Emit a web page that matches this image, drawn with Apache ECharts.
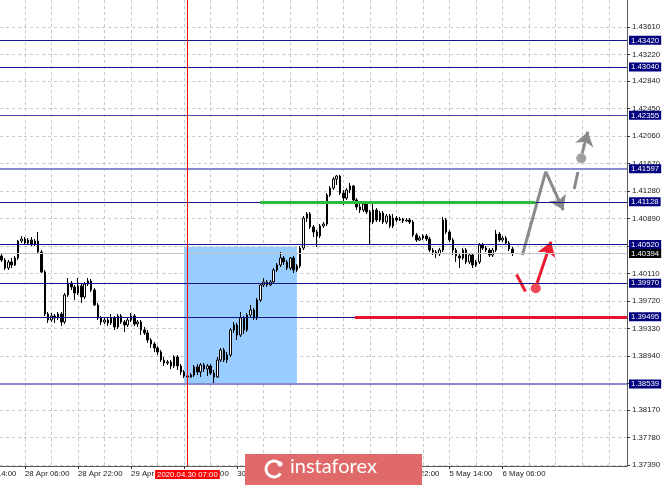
<!DOCTYPE html>
<html><head><meta charset="utf-8">
<script src="https://cdn.jsdelivr.net/npm/echarts@6/dist/echarts.min.js"></script>
<style>html,body{margin:0;padding:0;background:#fff}#c{width:665px;height:485px}</style>
</head><body><div id="c"></div>
<script>
// ---------- DATA ----------
const tradingDays = ['27 Apr','28 Apr','29 Apr','30 Apr','1 May','4 May','5 May','6 May','7 May'];
const axisStart = '27 Apr 14:00';
const axisEnd = '7 May 19:00';
const firstBarTime = '27 Apr 23:00';
const labelTimes = ['27 Apr 14:00','28 Apr 06:00','28 Apr 22:00','29 Apr 14:00','30 Apr 06:00','30 Apr 22:00','1 May 14:00','4 May 06:00','4 May 22:00','5 May 14:00','6 May 06:00'];
const markedTime = '30 Apr 07:00';
const markedLabel = '2020.04.30 07:00';

const opens = [1.40358,1.40301,1.40187,1.40273,1.40230,1.40329,1.40571,1.40599,1.40542,1.40585,
1.40528,1.40571,1.40415,1.40131,1.39535,1.39449,1.39506,1.39478,1.39535,1.39421,
1.39804,1.39974,1.39918,1.39832,1.39932,1.39776,1.39960,1.40003,1.39875,1.39662,
1.39478,1.39421,1.39449,1.39407,1.39478,1.39350,1.39506,1.39421,1.39378,1.39449,
1.39506,1.39393,1.39421,1.39307,1.39265,1.39165,1.39108,1.39052,1.38995,1.38881,
1.38838,1.38853,1.38796,1.38924,1.38796,1.38711,1.38654,1.38640,1.38668,1.38782,
1.38711,1.38810,1.38753,1.38796,1.38696,1.38640,1.38881,1.39023,1.38881,1.38952,
1.39307,1.39378,1.39236,1.39478,1.39307,1.39520,1.39591,1.39478,1.39733,1.39946,
1.39989,1.39946,1.39989,1.40159,1.40230,1.40329,1.40273,1.40187,1.40329,1.40159,
1.40216,1.40471,1.40897,1.40954,1.40770,1.40699,1.40642,1.40784,1.40812,1.41224,
1.41323,1.41451,1.41494,1.41252,1.41181,1.41295,1.41352,1.41153,1.41054,1.41011,
1.41096,1.40983,1.40841,1.41011,1.40869,1.40968,1.40841,1.40926,1.40784,1.40897,
1.40869,1.40883,1.40855,1.40869,1.40841,1.40656,1.40585,1.40613,1.40642,1.40599,
1.40443,1.40415,1.40386,1.40443,1.40869,1.40699,1.40585,1.40443,1.40358,1.40329,
1.40443,1.40273,1.40372,1.40230,1.40273,1.40514,1.40471,1.40443,1.40372,1.40443,
1.40670,1.40585,1.40613,1.40542,1.40457];
const closes = [1.40301,1.40187,1.40273,1.40230,1.40329,1.40571,1.40599,1.40542,1.40585,1.40528,
1.40571,1.40415,1.40131,1.39535,1.39449,1.39506,1.39478,1.39535,1.39421,1.39804,
1.39974,1.39918,1.39832,1.39932,1.39776,1.39960,1.40003,1.39875,1.39662,1.39478,
1.39421,1.39449,1.39407,1.39478,1.39350,1.39506,1.39421,1.39378,1.39449,1.39506,
1.39393,1.39421,1.39307,1.39265,1.39165,1.39108,1.39052,1.38995,1.38881,1.38838,
1.38853,1.38796,1.38924,1.38796,1.38711,1.38654,1.38640,1.38668,1.38782,1.38711,
1.38810,1.38753,1.38796,1.38696,1.38640,1.38881,1.39023,1.38881,1.38952,1.39307,
1.39378,1.39236,1.39478,1.39307,1.39520,1.39591,1.39478,1.39733,1.39946,1.39989,
1.39946,1.39989,1.40159,1.40230,1.40329,1.40273,1.40187,1.40329,1.40159,1.40216,
1.40471,1.40897,1.40954,1.40770,1.40699,1.40642,1.40784,1.40812,1.41224,1.41323,
1.41451,1.41494,1.41252,1.41181,1.41295,1.41352,1.41153,1.41054,1.41011,1.41096,
1.40983,1.40841,1.41011,1.40869,1.40968,1.40841,1.40926,1.40784,1.40897,1.40869,
1.40883,1.40855,1.40869,1.40841,1.40656,1.40585,1.40613,1.40642,1.40599,1.40443,
1.40415,1.40386,1.40443,1.40869,1.40699,1.40585,1.40443,1.40358,1.40329,1.40443,
1.40273,1.40372,1.40230,1.40273,1.40514,1.40471,1.40443,1.40372,1.40443,1.40670,
1.40585,1.40613,1.40542,1.40457,1.40394];
const highs = [1.40386,1.40329,1.40301,1.40329,1.40358,1.40585,1.40642,1.40628,1.40613,1.40628,
1.40599,1.40699,1.40443,1.40159,1.39563,1.39549,1.39535,1.39563,1.39563,1.39832,
1.40045,1.40003,1.39946,1.40045,1.39960,1.39989,1.40045,1.40031,1.39903,1.39690,
1.39506,1.39478,1.39478,1.39535,1.39506,1.39535,1.39535,1.39449,1.39478,1.39549,
1.39535,1.39449,1.39449,1.39350,1.39307,1.39194,1.39137,1.39080,1.39023,1.38924,
1.38881,1.38881,1.38952,1.38952,1.38824,1.38739,1.38696,1.38696,1.38810,1.38824,
1.38838,1.38838,1.38824,1.38824,1.38739,1.38924,1.39052,1.39052,1.38995,1.39336,
1.39421,1.39407,1.39563,1.39506,1.39549,1.39662,1.39620,1.39761,1.39974,1.40045,
1.40017,1.40017,1.40187,1.40258,1.40415,1.40358,1.40301,1.40344,1.40358,1.40244,
1.40500,1.40926,1.40983,1.40983,1.40798,1.40727,1.40812,1.40841,1.41252,1.41352,
1.41480,1.41508,1.41508,1.41295,1.41323,1.41394,1.41366,1.41181,1.41096,1.41125,
1.41125,1.41011,1.41096,1.41039,1.40997,1.40997,1.40954,1.40954,1.40954,1.40926,
1.40912,1.40897,1.40897,1.40897,1.40869,1.40684,1.40642,1.40670,1.40670,1.40628,
1.40471,1.40443,1.40471,1.40912,1.40897,1.40727,1.40613,1.40471,1.40386,1.40471,
1.40471,1.40400,1.40400,1.40301,1.40542,1.40542,1.40500,1.40471,1.40471,1.40727,
1.40699,1.40642,1.40642,1.40571,1.40486];
const lows = [1.40273,1.40159,1.40159,1.40187,1.40216,1.40301,1.40542,1.40514,1.40514,1.40500,
1.40500,1.40386,1.40116,1.39506,1.39407,1.39421,1.39407,1.39449,1.39364,1.39393,
1.39776,1.39875,1.39733,1.39804,1.39690,1.39747,1.39932,1.39847,1.39648,1.39449,
1.39378,1.39393,1.39364,1.39378,1.39307,1.39321,1.39393,1.39279,1.39350,1.39421,
1.39364,1.39350,1.39236,1.39236,1.39123,1.39052,1.38995,1.38952,1.38853,1.38796,
1.38810,1.38753,1.38767,1.38739,1.38668,1.38626,1.38569,1.38626,1.38640,1.38668,
1.38640,1.38711,1.38654,1.38668,1.38555,1.38626,1.38853,1.38853,1.38838,1.38924,
1.39265,1.39165,1.39208,1.39250,1.39279,1.39492,1.39449,1.39449,1.39705,1.39918,
1.39918,1.39932,1.39960,1.40131,1.40202,1.40230,1.40159,1.40159,1.40116,1.40131,
1.40187,1.40443,1.40841,1.40741,1.40628,1.40486,1.40613,1.40755,1.40784,1.41196,
1.41295,1.41366,1.41224,1.41082,1.41153,1.41252,1.41125,1.41011,1.40968,1.40983,
1.40954,1.40514,1.40812,1.40841,1.40841,1.40812,1.40812,1.40755,1.40755,1.40841,
1.40855,1.40826,1.40841,1.40812,1.40628,1.40557,1.40571,1.40585,1.40571,1.40415,
1.40372,1.40329,1.40358,1.40415,1.40670,1.40557,1.40372,1.40273,1.40187,1.40301,
1.40244,1.40244,1.40187,1.40202,1.40244,1.40443,1.40415,1.40344,1.40344,1.40415,
1.40557,1.40557,1.40514,1.40429,1.40358];

const yTicks = [1.37390,1.37780,1.38170,1.38550,1.38940,1.39330,1.39720,1.40110,1.40500,1.40890,1.41280,1.41670,1.42060,1.42450,1.42840,1.43220,1.43610];
const yMin = 1.37376, yMax = 1.43993;

const levelPrices = [1.43420,1.43040,1.42355,1.41597,1.41128,1.40520,1.39970,1.39495,1.38539];
// zones / annotations in (bar index, price)
const zoneBox = [[55, 1.40489],[89, 1.38539]];
const greenSegment = [[77.9, 1.41128],[160.8, 1.41128]];
const redSegment = [[106.5, 1.39495],[188.5, 1.39495]];
const grayPathA = [[156.96,1.40372],[164.0,1.41555]];
const grayPathB = [[164.0,1.41555],[169.3,1.41011]];
const grayDash = [[172.6,1.41309],[173.7,1.41551]];
const grayDot = [174.7,1.41745];
const grayArrow = [[175.0,1.41820],[176.7,1.42123]];
const redDash = [[155.2,1.40095],[157.9,1.39854]];
const redDot = [161.0,1.39899];
const redArrow = [[161.4,1.39975],[165.6,1.40561]];

// ---------- BUILD ----------
const allSlots = [];
tradingDays.forEach(d => { for (let h = 0; h < 24; h++) allSlots.push(d + ' ' + String(h).padStart(2,'0') + ':00'); });
const categories = allSlots.slice(allSlots.indexOf(axisStart), allSlots.indexOf(axisEnd) + 1);
const offset = categories.indexOf(firstBarTime);
const candleData = categories.map((c, k) => {
  const j = k - offset;
  return (j >= 0 && j < opens.length) ? [opens[j], closes[j], lows[j], highs[j]] : '-';
});
const gridXs = [];
categories.forEach((c, k) => { if (/ (06|14|22):00$/.test(c)) gridXs.push(k - offset); });
const markedIdx = categories.indexOf(markedTime) - offset;
const lastPrice = closes[closes.length - 1];

const plotRight = 627, plotBottom = 466, W = 665, H = 485;
const barW = plotRight / (categories.length - offset);
const FONT = 'Liberation Sans';
const FS = 7.8;

const levelColors = ['#16168c','#16168c','#4b4bab','#8a8ad0','#16168c','#16168c','#16168c','#16168c','#8a8ad0'];
const levelWidths = [1,1,1.2,2,1,1,1,1,2];

const boxLabel = (bg) => ({show:true, position:'end', distance:2, color:'#fff', backgroundColor:bg,
  padding:[1,2,0,2], fontSize:FS, fontFamily:FONT, lineHeight:8});

const levelLines = levelPrices.map((p, i) => ({
  yAxis: p,
  lineStyle: {color: levelColors[i], width: levelWidths[i], type:'solid'},
  label: Object.assign(boxLabel('#00007e'), {formatter: p.toFixed(5)})
}));
levelLines.unshift({
  yAxis: lastPrice,
  lineStyle: {color:'#c4c4c4', width:1, type:'solid'},
  label: Object.assign(boxLabel('#000000'), {formatter: lastPrice.toFixed(5)})
});

const arrowSeries = (coords, color, withHead) => ({
  type: 'lines', coordinateSystem: 'cartesian2d', xAxisIndex: 1, yAxisIndex: 0, z: 4,
  symbol: ['none', withHead ? 'arrow' : 'none'], symbolSize: 14,
  lineStyle: {color: color, width: 3, opacity: 1, curveness: 0},
  data: [{coords: coords}]
});

const chart = echarts.init(document.getElementById('c'), null, {renderer:'canvas'});
chart.setOption({
  animation: false,
  backgroundColor: '#ffffff',
  grid: {left: -offset * barW, right: W - plotRight, top: 0, bottom: H - plotBottom, containLabel: false, outerBoundsMode: 'none'},
  xAxis: [{
    type: 'category', data: categories, boundaryGap: true,
    axisLine: {show: true, onZero: false, lineStyle: {color: '#5a5a5a', width: 1}},
    axisTick: {show: true, alignWithLabel: true, length: 3, interval: (i, v) => labelTimes.includes(v), lineStyle:{color:'#333'}},
    axisLabel: {show: true, interval: (i, v) => labelTimes.includes(v), align: 'left', margin: 4,
      fontSize: FS, fontFamily: FONT, color: '#1a1a1a', hideOverlap: false},
    splitLine: {show: false}
  }, {
    type: 'value', min: -offset - 0.5, max: categories.length - offset - 0.5, position: 'bottom',
    axisLine: {show: false, onZero: false}, axisLabel: {show: false},
    axisTick: {show: false, customValues: gridXs},
    splitLine: {show: true, lineStyle: {color: '#c8c8c8', type: [3, 3], width: 1}}
  }],
  yAxis: [{
    type: 'value', position: 'right', min: yMin, max: yMax, scale: true,
    axisLine: {show: true, onZero: false, lineStyle: {color: '#5a5a5a', width: 1}},
    axisTick: {show: true, length: 3, customValues: yTicks, lineStyle:{color:'#333'}},
    axisLabel: {show: true, customValues: yTicks, margin: 5, formatter: v => v.toFixed(5),
      fontSize: FS, fontFamily: FONT, color: '#1a1a1a'},
    splitLine: {show: true, lineStyle: {color: '#c8c8c8', type: [3, 3], width: 1}}
  }],
  series: [
    { // zone box
      type: 'line', xAxisIndex: 1, yAxisIndex: 0, data: [], z: 1, silent: true,
      markArea: {silent: true, itemStyle: {color: '#99ccff', opacity: 1},
        data: [[{coord: zoneBox[0]}, {coord: zoneBox[1]}]]}
    },
    {
      type: 'candlestick', xAxisIndex: 0, yAxisIndex: 0, data: candleData, z: 2,
      barWidth: 2,
      itemStyle: {color: '#ffffff', color0: '#000000', borderColor: '#000000', borderColor0: '#000000', borderWidth: 1}
    },
    { // horizontal levels, vertical marker
      type: 'line', xAxisIndex: 1, yAxisIndex: 0, data: [], z: 3, silent: true,
      markLine: {silent: true, symbol: ['none','none'], animation: false, precision: 5,
        data: levelLines.concat([
          {xAxis: markedIdx, lineStyle: {color: '#ff0000', width: 1, type: 'solid'},
           label: {show: true, position: 'start', distance: 4, formatter: markedLabel, color: '#fff',
             backgroundColor: '#ff0000', padding: [1,2,0,2], fontSize: FS, fontFamily: FONT, lineHeight: 8}},
          [{coord: greenSegment[0], lineStyle: {color: '#2fba3a', width: 3, type: 'solid'}, label:{show:false}}, {coord: greenSegment[1]}],
          [{coord: redSegment[0], lineStyle: {color: '#e5142c', width: 3, type: 'solid'}, label:{show:false}}, {coord: redSegment[1]}]
        ])}
    },
    arrowSeries(grayPathA, '#8a8a8a', false),
    arrowSeries(grayPathB, '#8a8a8a', true),
    arrowSeries(grayDash, '#8a8a8a', false),
    arrowSeries(grayArrow, '#8a8a8a', true),
    arrowSeries(redDash, '#ec1c2e', false),
    arrowSeries(redArrow, '#ec1c2e', true),
    {
      type: 'scatter', xAxisIndex: 1, yAxisIndex: 0, z: 5, symbolSize: 10,
      data: [{value: grayDot, itemStyle: {color: '#8a8a8a'}}, {value: redDot, itemStyle: {color: '#ec1c2e'}}]
    }
  ],
  graphic: [
    {type: 'rect', left: 245, top: 454, z: 100, shape: {width: 177, height: 31}, style: {fill: '#e06a6a'}},
    {type: 'arc', z: 101, shape: {cx: 274, cy: 469, r: 8, startAngle: 0.6, endAngle: 5.6}, style: {stroke: '#fff', lineWidth: 3, fill: null}},
    {type: 'circle', z: 101, shape: {cx: 280, cy: 464, r: 2.5}, style: {fill: '#fff'}},
    {type: 'text', left: 290, top: 457, z: 101, style: {text: 'instaforex', fill: '#ffffff', fontSize: 20, fontFamily: 'Lato', fontWeight: 'normal'}}
  ]
});
</script></body></html>
